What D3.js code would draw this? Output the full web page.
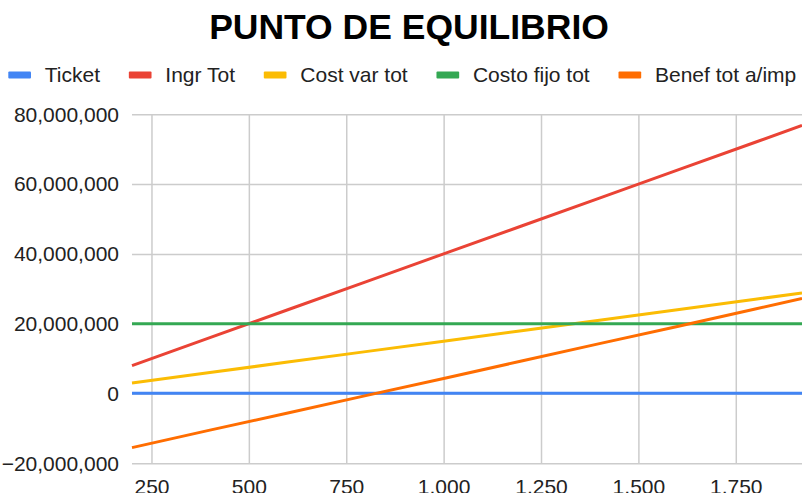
<!DOCTYPE html>
<html>
<head>
<meta charset="utf-8">
<script src="https://cdn.jsdelivr.net/npm/d3@7"></script>
<style>
  html, body { margin: 0; padding: 0; background: #fff; }
  svg { display: block; font-family: "Liberation Sans", Arial, sans-serif; }
</style>
</head>
<body>
<svg id="chart" width="802" height="493"></svg>
<script>
// ---- data ----
const units = [200, 400, 600, 800, 1000, 1200, 1400, 1600, 1800, 1920];
const ticket = [40000, 40000, 40000, 40000, 40000, 40000, 40000, 40000, 40000, 40000];
const ingrTot = [8000000, 16000000, 24000000, 32000000, 40000000, 48000000, 56000000, 64000000, 72000000, 76800000];
const costVarTot = [3000000, 6000000, 9000000, 12000000, 15000000, 18000000, 21000000, 24000000, 27000000, 28800000];
const costoFijoTot = [20000000, 20000000, 20000000, 20000000, 20000000, 20000000, 20000000, 20000000, 20000000, 20000000];
const benefTot = [-15500000, -10500000, -5600000, -600000, 4300000, 9300000, 14300000, 19200000, 24200000, 27200000];
const seriesNames = ["Ticket", "Ingr Tot", "Cost var tot", "Costo fijo tot", "Benef tot a/imp"];
const seriesColors = ["#4285F4", "#EA4335", "#FBBC04", "#34A853", "#FF6D01"];
const xTicks = [250, 500, 750, 1000, 1250, 1500, 1750];
const yTicks = [-20000000, 0, 20000000, 40000000, 60000000, 80000000];
const title = "PUNTO DE EQUILIBRIO";

const seriesValues = [ticket, ingrTot, costVarTot, costoFijoTot, benefTot];

const svg = d3.select("#chart");
const pLeft = 132, pRight = 802, pTop = 114.3, pBottom = 463.3;

const x = d3.scaleLinear().domain([200, 1920]).range([pLeft, pRight]);
const y = d3.scaleLinear().domain([-20000000, 80000000]).range([pBottom, pTop]);
const fmt = d3.format(",");

// title
svg.append("text")
  .attr("x", 409).attr("y", 39)
  .attr("text-anchor", "middle")
  .attr("font-size", 35.5).attr("font-weight", "bold")
  .attr("fill", "#000")
  .text(title);

// gridlines
const gx = svg.append("g").attr("transform", `translate(0,${pBottom})`)
  .call(d3.axisBottom(x).tickValues(xTicks).tickSize(-(pBottom - pTop)).tickFormat(""));
gx.select(".domain").remove();
gx.selectAll("line").attr("stroke", "#cccccc").attr("stroke-width", 1.5);

const gy = svg.append("g").attr("transform", `translate(${pLeft},0)`)
  .call(d3.axisLeft(y).tickValues(yTicks).tickSize(-(pRight - pLeft)).tickFormat(""));
gy.select(".domain").remove();
gy.selectAll("line").attr("stroke", "#cccccc").attr("stroke-width", 1.5);

// axis labels
const lx = svg.append("g").attr("transform", `translate(0,${pBottom})`)
  .call(d3.axisBottom(x).tickValues(xTicks).tickSize(0).tickPadding(16).tickFormat(fmt));
lx.select(".domain").remove();
lx.selectAll("text").attr("font-size", 21).attr("fill", "#222").attr("font-family", "Liberation Sans, Arial, sans-serif");

const ly = svg.append("g").attr("transform", `translate(${pLeft},0)`)
  .call(d3.axisLeft(y).tickValues(yTicks).tickSize(0).tickPadding(13).tickFormat(fmt));
ly.select(".domain").remove();
ly.selectAll("text").attr("font-size", 21).attr("fill", "#222").attr("font-family", "Liberation Sans, Arial, sans-serif");

// lines
const line = d3.line().x((d, i) => x(units[i])).y(d => y(d));
seriesValues.forEach((vals, k) => {
  svg.append("path")
    .datum(vals)
    .attr("fill", "none")
    .attr("stroke", seriesColors[k])
    .attr("stroke-width", 3)
    .attr("d", line);
});

// legend
const legend = svg.append("g");
let lxPos = 8.3;
seriesNames.forEach((name, k) => {
  legend.append("rect")
    .attr("x", lxPos).attr("y", 71.5)
    .attr("width", 22.7).attr("height", 7)
    .attr("rx", 1)
    .attr("fill", seriesColors[k]);
  const t = legend.append("text")
    .attr("x", lxPos + 36.5).attr("y", 81.7)
    .attr("font-size", 21).attr("fill", "#222")
    .text(name);
  lxPos = lxPos + 36.5 + t.node().getComputedTextLength() + 28.8;
});
</script>
</body>
</html>
